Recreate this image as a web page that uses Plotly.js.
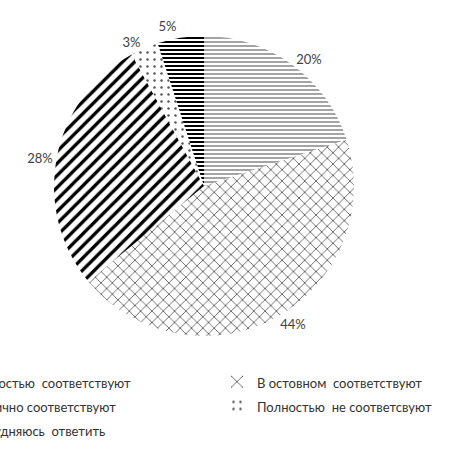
<!DOCTYPE html>
<html>
<head>
<meta charset="utf-8">
<script src="https://cdn.plot.ly/plotly-3.0.1.min.js"></script>
<style>
html,body{margin:0;padding:0;background:#fff;overflow:hidden;width:464px;height:452px;}
#wrap{position:relative;width:464px;height:452px;overflow:hidden;}
#chart{position:absolute;left:-80px;top:0;width:600px;height:452px;}
</style>
</head>
<body>
<div id="wrap"><div id="chart"></div></div>
<script>
var categories = ["Полностью  соответствуют", "В остовном  соответствуют", "Частично соответствуют", "Полностью  не соответсвуют", "Затрудняюсь  ответить"];
var values = [20, 44, 28, 3, 5];
var patternShapes = ["-", "x", "/", ".", "-"];
var patternColors = ["#666666", "#444444", "#000000", "#555555", "#000000"];
var patternSizes = [4, 8, 8.5, 7, 4];
var patternSolidity = [0.3, 0.18, 0.4, 0.1, 0.5];

var fixLabels = categories.map(function(s){
  return '<span style="font-size:13px">' + s.replace(/  /g, " \u00a0") + '</span>';
});

var trace = {
  type: "pie",
  labels: fixLabels,
  values: values,
  sort: false,
  direction: "clockwise",
  rotation: 0,
  textposition: "outside",
  texttemplate: '<span style="fill:#404040;fill-opacity:1">%{value}%</span>',
  outsidetextfont: {family: "Lato, 'Open Sans', sans-serif", size: 13, color: "rgba(64,64,64,0)"},
  textfont: {family: "Lato, 'Open Sans', sans-serif", size: 13, color: "#404040"},
  marker: {
    colors: ["#ffffff", "#ffffff", "#ffffff", "#ffffff", "#ffffff"],
    line: {width: 0, color: "#ffffff"},
    pattern: {
      shape: patternShapes,
      fgcolor: patternColors,
      bgcolor: "#ffffff",
      fgopacity: 1,
      size: patternSizes,
      solidity: patternSolidity,
      fillmode: "overlay"
    }
  },
  domain: {x: [0.2233, 0.7233], y: [0.2566, 0.9204]},
  hoverinfo: "none"
};

var layout = {
  width: 600,
  height: 452,
  margin: {l: 0, r: 0, t: 0, b: 0, autoexpand: false},
  paper_bgcolor: "#ffffff",
  showlegend: true,
  legend: {
    orientation: "h",
    x: 0.01167,
    xanchor: "left",
    y: 0.193,
    yanchor: "top",
    entrywidth: 245,
    entrywidthmode: "pixels",
    font: {family: "Lato, 'Open Sans', sans-serif", size: 16, color: "#333333"},
    itemsizing: "constant"
  }
};

Plotly.newPlot("chart", [trace], layout, {staticPlot: true});
</script>
</body>
</html>
